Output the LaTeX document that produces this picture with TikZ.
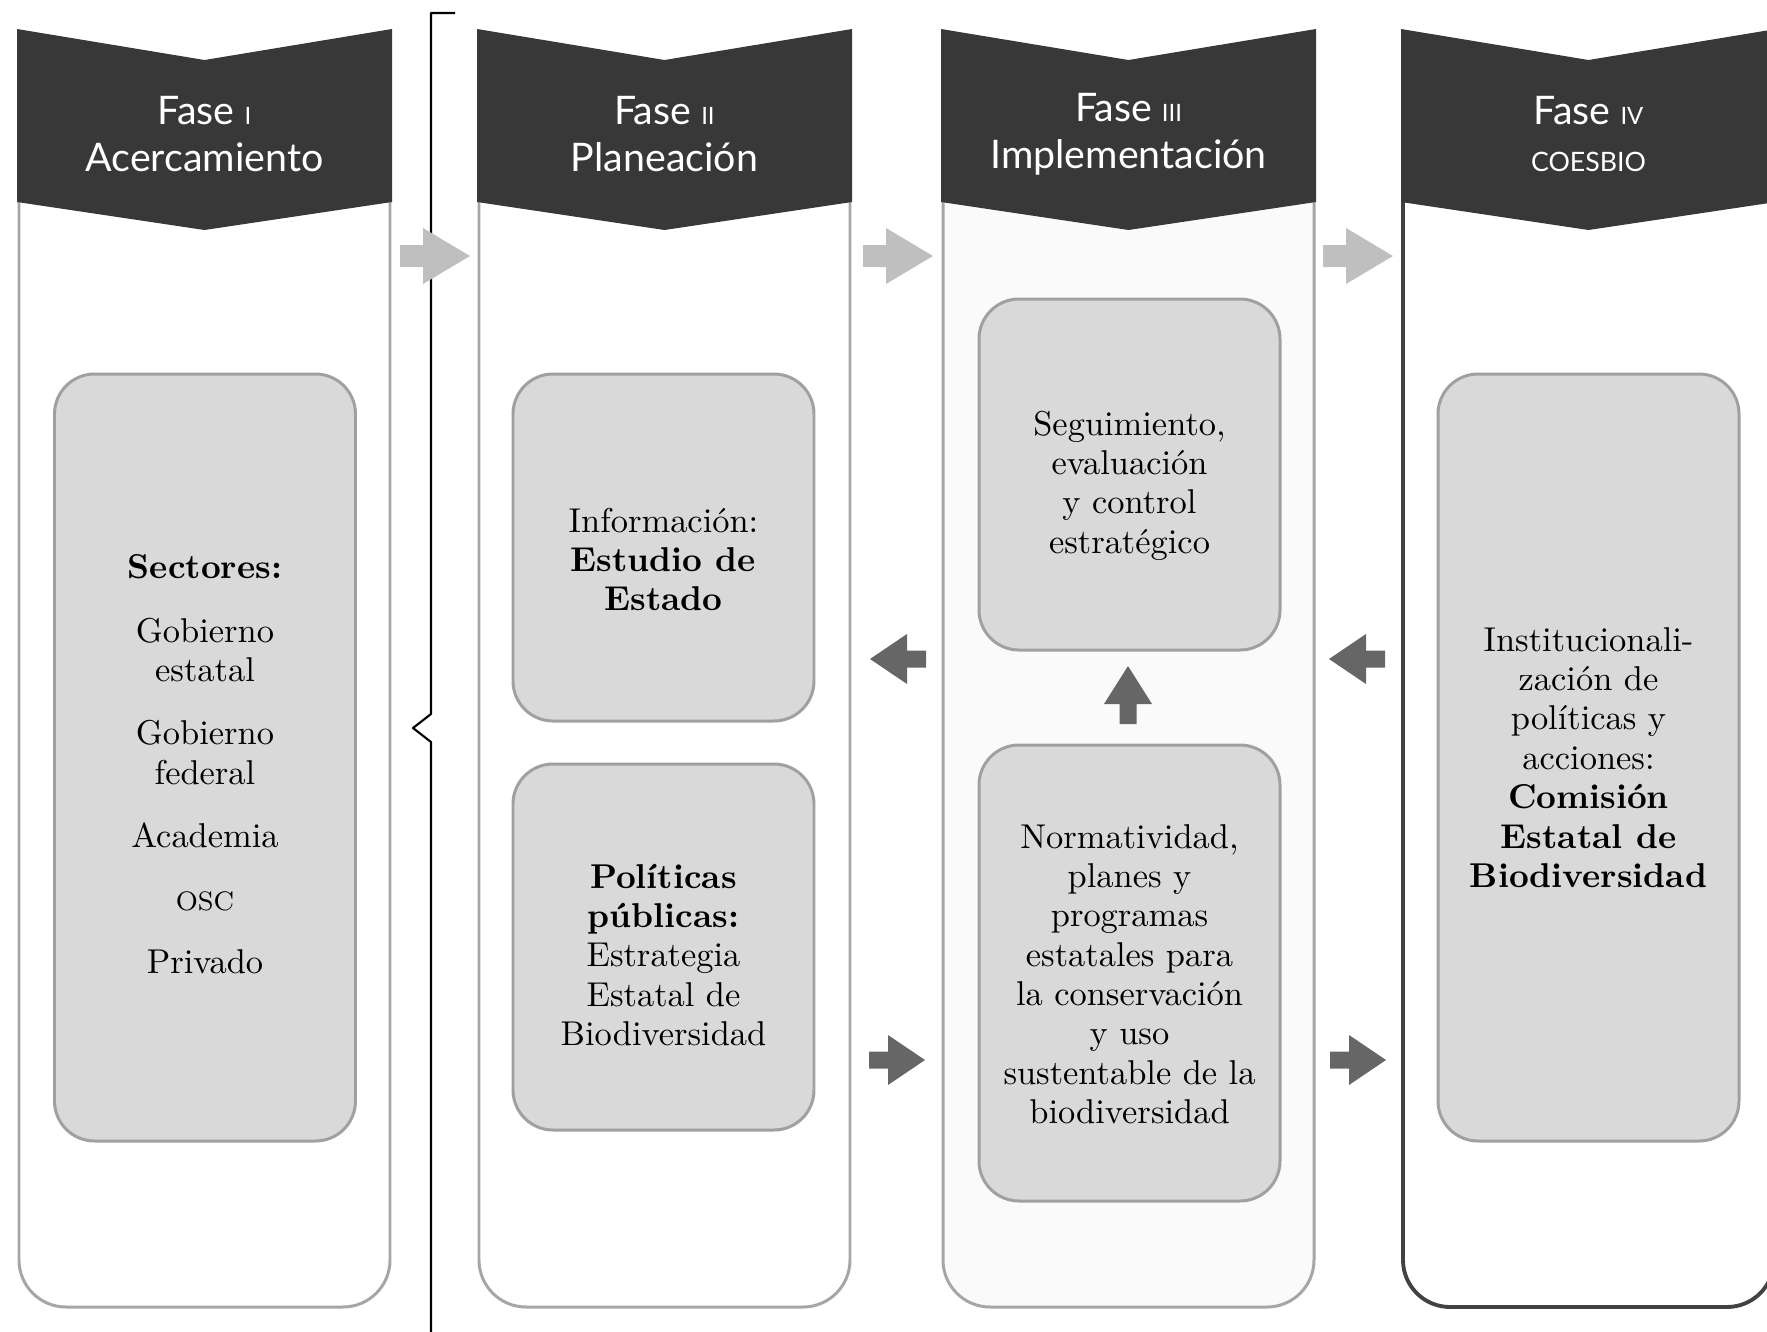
\documentclass[tikz,border=0pt]{standalone}
\usepackage{fontspec}
\newfontfamily\hdrfont{Lato}
\usetikzlibrary{calc}

\definecolor{hdrgray}{HTML}{383838}
\definecolor{lightarr}{HTML}{BFBFBF}
\definecolor{darkarr}{HTML}{666666}
\definecolor{boxfill}{HTML}{D9D9D9}
\definecolor{boxline}{HTML}{A0A0A0}
\definecolor{colline}{HTML}{A6A6A6}

\tikzset{
  column/.style={draw=colline, line width=0.85pt, fill=white, rounded corners=4.7mm,
    minimum width=37.1mm, minimum height=120.7mm, inner sep=0pt},
  header/.style={fill=hdrgray},
  hdrtext/.style={text=white, align=center, font=\hdrfont\fontsize{11.2}{13.5}\selectfont},
  phasebox/.style={draw=boxline, line width=0.85pt, fill=boxfill, rounded corners=4mm,
    minimum width=30.1mm, inner sep=0pt},
  boxtext/.style={align=center, inner sep=0pt, font=\fontsize{9.8}{11.2}\selectfont},
  lightarrow/.style={fill=lightarr},
  darkarrow/.style={fill=darkarr}
}
\newcommand{\romsc}[1]{{\fontsize{6.8}{8}\selectfont #1}}

\begin{document}
\begin{tikzpicture}[x=0.1mm,y=-0.1mm,line join=round]
	\useasboundingbox (0,0) rectangle (1767,1332);
	\clip (0,0) rectangle (1767,1332);

	% Bracket
	\draw[line width=0.6pt] (455,13) -- (431,13) -- (431,714) -- (413,728) -- (431,742) -- (431,1340);

	% Columns
	\node[column] (col1) at (204.5,703.5) {};
	\node[column] (col2) at (664.5,703.5) {};
	\node[column, fill=gray!4] (col3) at (1128.5,703.5) {};
	\node[column, draw=hdrgray!95, line width=1.1pt] (col4) at (1588.5,703.5) {};

	% Headers
	\foreach \x in {17,477,941,1401}
		\fill[header] (\x,29) -- ++(187.5,31) -- ++(187.5,-31) -- ++(0,173) -- ++(-187.5,28) -- ++(-187.5,-28) -- cycle;
	\node[hdrtext] (h1) at (204.5,134) {Fase \romsc{I}\\Acercamiento};
	\node[hdrtext] (h2) at (664.5,134) {Fase \romsc{II}\\Planeación};
	\node[hdrtext] (h3) at (1128.5,134) {Fase \romsc{III}\\Implementación};
	\node[hdrtext] (h4) at (1588.5,134) {Fase \romsc{IV}\\{\fontsize{7.6}{9}\selectfont COESBIO}};

	% Light arrows between phases
	\foreach \tx in {470,933,1393}
		\fill[lightarrow] (\tx,256) -- ++(-47,-28) -- ++(0,17) -- ++(-23,0) -- ++(0,22) -- ++(23,0) -- ++(0,17) -- cycle;

	% Boxes
	\node[phasebox, minimum height=76.7mm] (sect) at (205,757.5) {};
	\node[phasebox, minimum height=34.7mm] (info) at (663.5,547.5) {};
	\node[phasebox, minimum height=36.6mm] (polit) at (663.5,947) {};
	\node[phasebox, minimum height=35.1mm] (segui) at (1129.5,474.5) {};
	\node[phasebox, minimum height=45.6mm] (norma) at (1129.5,973) {};
	\node[phasebox, minimum height=76.7mm] (comis) at (1588.5,757.5) {};

	% Box texts
	\node[boxtext] (sectT) at ($(sect)+(0,7)$)
		{\textbf{Sectores:}\\[6.8pt]Gobierno\\estatal\\[6.8pt]Gobierno\\federal\\[6.8pt]Academia\\[6.8pt]{\fontsize{7.6}{9}\selectfont OSC}\\[6.8pt]Privado};
	\node[boxtext] (infoT) at ($(info)+(0,12)$)
		{Información:\\\textbf{Estudio de}\\\textbf{Estado}};
	\node[boxtext] (politT) at ($(polit)+(0,8)$)
		{\textbf{Políticas}\\\textbf{públicas:}\\Estrategia\\Estatal de\\Biodiversidad};
	\node[boxtext] (seguiT) at ($(segui)+(0,11)$)
		{Seguimiento,\\evaluación\\y control\\estratégico};
	\node[boxtext] (normaT) at ($(norma)+(0,1)$)
		{Normatividad,\\planes y\\programas\\estatales para\\la conservación\\y uso\\sustentable de la\\biodiversidad};
	\node[boxtext] (comisT) at (comis)
		{Institucionali-\\zación de\\políticas y\\acciones:\\\textbf{Comisión}\\\textbf{Estatal de}\\\textbf{Biodiversidad}};

	% Dark arrows
	\foreach \tx in {870,1329}
		\fill[darkarrow] (\tx,659) -- ++(37,-25) -- ++(0,16.5) -- ++(19,0) -- ++(0,17) -- ++(-19,0) -- ++(0,16.5) -- cycle;
	\foreach \tx in {925,1386}
		\fill[darkarrow] (\tx,1060) -- ++(-37,-25) -- ++(0,16.5) -- ++(-19,0) -- ++(0,17) -- ++(19,0) -- ++(0,16.5) -- cycle;
	\fill[darkarrow] (1128,666) -- ++(-24,38) -- ++(15.5,0) -- ++(0,20) -- ++(17,0) -- ++(0,-20) -- ++(15.5,0) -- cycle;
\end{tikzpicture}
\end{document}
